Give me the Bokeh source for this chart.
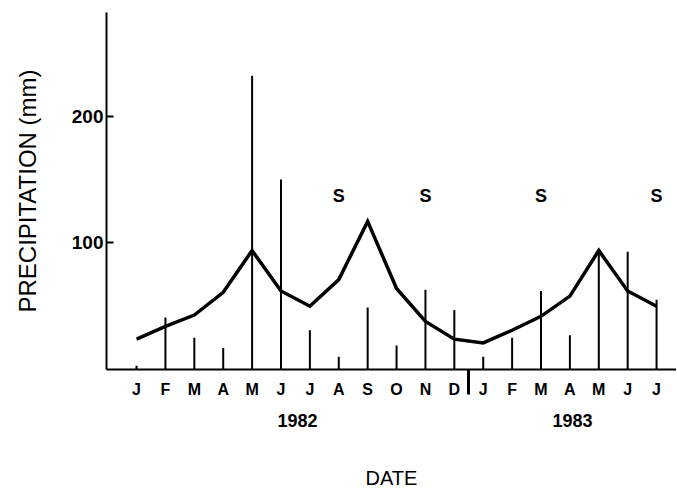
from bokeh.plotting import figure
from bokeh.models import LinearAxis, FixedTicker, Range1d
from bokeh.embed import file_html
from bokeh.resources import INLINE
from bokeh.core.properties import value

# ---- data ----
months = ["J", "F", "M", "A", "M", "J", "J", "A", "S", "O", "N", "D",
          "J", "F", "M", "A", "M", "J", "J"]
monthly_precip = [3, 41, 25, 17, 232, 150, 31, 10, 49, 19, 63, 47,
                  10, 25, 62, 27, 94, 93, 55]
mean_precip = [24, 34, 43, 61, 94, 62, 50, 71, 117, 64, 38, 24,
               21, 31, 42, 58, 94, 62, 50]
s_month_index = [7, 10, 14, 18]
s_level = 137
years = ["1982", "1983"]
year_pos = [5.57, 15.09]
year_separator = 11.5
y_ticks = [100, 200]

FONT = "Liberation Sans"
idx = list(range(len(months)))

p = figure(width=676, height=491,
           x_range=Range1d(-1.04, 18.69), y_range=Range1d(0, 282),
           x_axis_type=None, y_axis_type=None,
           output_backend="svg", toolbar_location=None,
           min_border_left=106, min_border_right=0,
           min_border_top=12, min_border_bottom=122)
p.outline_line_color = None
p.background_fill_color = "white"
p.border_fill_color = "white"

# monthly precipitation bars
p.segment(x0=idx, y0=[0] * len(idx), x1=idx, y1=monthly_precip,
          line_color="black", line_width=2)
# long-term mean line
p.line(idx, mean_precip, line_color="black", line_width=3.5, line_join="miter")
# S labels
p.text(x=s_month_index, y=[s_level] * len(s_month_index), text=["S"] * len(s_month_index),
       text_align="center", text_baseline="middle", text_font_size="18px",
       text_font_style="bold", text_font=value(FONT), text_color="black")

# month axis
xaxis = LinearAxis(
    ticker=FixedTicker(ticks=idx, minor_ticks=[year_separator]),
    major_label_overrides={i: m for i, m in zip(idx, months)},
    major_tick_line_color=None,
    minor_tick_line_color="black", minor_tick_in=0, minor_tick_out=25,
    minor_tick_line_width=3,
    axis_line_width=2, axis_line_color="black",
    major_label_text_font=FONT, major_label_text_font_size="16px",
    major_label_text_font_style="bold", major_label_text_color="black",
    major_label_standoff=-14)
p.add_layout(xaxis, "below")

# year axis
yearaxis = LinearAxis(
    ticker=FixedTicker(ticks=year_pos, minor_ticks=[]),
    major_label_overrides={yp: y for yp, y in zip(year_pos, years)},
    axis_line_color=None, major_tick_line_color=None, minor_tick_line_color=None,
    major_label_text_font=FONT, major_label_text_font_size="18px",
    major_label_text_font_style="bold", major_label_text_color="black",
    major_label_standoff=7,
    axis_label="DATE", axis_label_text_font=FONT, axis_label_text_font_size="20px",
    axis_label_text_font_style="normal", axis_label_text_color="black",
    axis_label_standoff=37)
p.add_layout(yearaxis, "below")

# y axis
yaxis = LinearAxis(
    ticker=FixedTicker(ticks=y_ticks, minor_ticks=[]),
    major_tick_in=7, major_tick_out=0, major_tick_line_width=2,
    minor_tick_line_color=None,
    axis_line_width=2, axis_line_color="black",
    major_label_text_font=FONT, major_label_text_font_size="19px",
    major_label_text_font_style="bold", major_label_text_color="black",
    major_label_standoff=3,
    axis_label="PRECIPITATION (mm)", axis_label_text_font=FONT,
    axis_label_text_font_size="24px", axis_label_text_font_style="normal",
    axis_label_text_color="black", axis_label_standoff=28)
p.add_layout(yaxis, "left")

open("out.html", "w").write(file_html(p, INLINE))
